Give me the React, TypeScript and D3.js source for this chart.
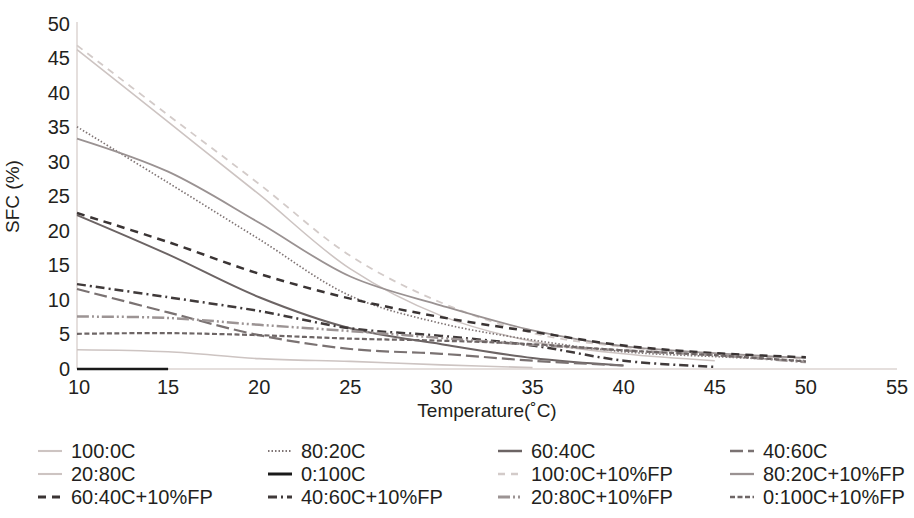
import React from "react";
import * as d3 from "d3";

const temperatures = [10, 15, 20, 25, 30, 35, 40, 45, 50];
const xTicks = [10, 15, 20, 25, 30, 35, 40, 45, 50, 55];
const yTicks = [0, 5, 10, 15, 20, 25, 30, 35, 40, 45, 50];

const seriesNames = [
  "100:0C", "80:20C", "60:40C", "40:60C",
  "20:80C", "0:100C", "100:0C+10%FP", "80:20C+10%FP",
  "60:40C+10%FP", "40:60C+10%FP", "20:80C+10%FP", "0:100C+10%FP",
];

const s100_0 = [46.3, 35.8, 25.3, 14.5, 7.7, 4.0, 2.2, 1.2];
const s80_20 = [35.1, 27.0, 18.8, 10.6, 6.6, 4.2, 2.5, 1.8, 1.2];
const s60_40 = [22.3, 16.6, 10.4, 5.9, 3.6, 1.6, 0.5];
const s40_60 = [11.6, 8.2, 4.9, 2.9, 2.2, 1.2, 0.5];
const s20_80 = [2.8, 2.5, 1.5, 1.1, 0.6, 0.2];
const s0_100 = [0, 0];
const s100_0fp = [46.9, 36.8, 26.8, 16.4, 9.6, 5.2, 3.2, 2.2, 1.5];
const s80_20fp = [33.4, 28.6, 21.2, 13.4, 9.2, 5.6, 3.3, 2.3, 1.6];
const s60_40fp = [22.6, 18.4, 13.8, 10.2, 7.5, 5.4, 3.4, 2.3, 1.7];
const s40_60fp = [12.3, 10.4, 8.4, 5.9, 4.8, 3.4, 1.2, 0.3];
const s20_80fp = [7.6, 7.4, 6.4, 5.5, 4.5, 3.5, 2.7, 2.0, 1.0];
const s0_100fp = [5.1, 5.2, 4.9, 4.4, 4.1, 3.6, 2.7, 2.0, 1.1];

const seriesValues = [
  s100_0, s80_20, s60_40, s40_60,
  s20_80, s0_100, s100_0fp, s80_20fp,
  s60_40fp, s40_60fp, s20_80fp, s0_100fp,
];

const styles = [
  { color: "#cdc4c2", width: 1.6, dash: "" },
  { color: "#7f7474", width: 1.7, dash: "1.5,2" },
  { color: "#6c6464", width: 2, dash: "" },
  { color: "#7a7272", width: 2.2, dash: "13,5" },
  { color: "#cdc4c2", width: 1.6, dash: "" },
  { color: "#1a1a1a", width: 2.5, dash: "" },
  { color: "#d3cbc9", width: 1.8, dash: "7,6" },
  { color: "#9a9292", width: 1.8, dash: "" },
  { color: "#3a3434", width: 2.5, dash: "8,6" },
  { color: "#403a3a", width: 2.5, dash: "9,4,2,4" },
  { color: "#9c9494", width: 2.5, dash: "12,3,2,3,2,3" },
  { color: "#6e6666", width: 2.2, dash: "5,2.5" },
];

const W = 914;
const H = 518;
const x = d3.scaleLinear().domain([10, 55]).range([77, 897]);
const y = d3.scaleLinear().domain([0, 50]).range([369, 24]);

const line = d3
  .line<[number, number]>()
  .x((d) => x(d[0]))
  .y((d) => y(d[1]))
  .curve(d3.curveCatmullRom.alpha(0.5));

const legendColX = [38, 268, 498, 730];
const legendRowY = [451, 474, 497];
const font = "'Liberation Sans', Arial, sans-serif";
const textColor = "#231f20";

export default function App() {
  return (
    <svg width={W} height={H} style={{ position: "absolute", left: 0, top: 0, background: "#fff" }}>
      <line x1={x(10)} x2={x(10)} y1={y(50) - 2} y2={y(0)} stroke="#dcd5d2" strokeWidth={1.5} />
      <line x1={x(10)} x2={x(55)} y1={y(0)} y2={y(0)} stroke="#dcd5d2" strokeWidth={1.5} />
      {yTicks.map((t) => (
        <text key={"y" + t} x={70} y={y(t)} dy="0.34em" textAnchor="end" fontFamily={font} fontSize={20} fill={textColor}>
          {t}
        </text>
      ))}
      {xTicks.map((t) => (
        <text key={"x" + t} x={x(t) + (t === 10 ? 2 : 0)} y={394} textAnchor="middle" fontFamily={font} fontSize={20} fill={textColor}>
          {t}
        </text>
      ))}
      <text x={(x(10) + x(55)) / 2} y={417} textAnchor="middle" fontFamily={font} fontSize={19} fill={textColor}>
        Temperature(˚C)
      </text>
      <text transform={`translate(19,${(y(0) + y(50)) / 2}) rotate(-90)`} textAnchor="middle" fontFamily={font} fontSize={19} fill={textColor}>
        SFC (%)
      </text>
      {seriesValues.map((vals, i) => {
        const pts = vals.map((v, j) => [temperatures[j], v] as [number, number]);
        const st = styles[i];
        return (
          <path key={seriesNames[i]} d={line(pts) || ""} fill="none" stroke={st.color} strokeWidth={st.width} strokeDasharray={st.dash || undefined} />
        );
      })}
      {seriesNames.map((name, i) => {
        const col = i % 4;
        const row = Math.floor(i / 4);
        const st = styles[i];
        const lx = legendColX[col];
        const ly = legendRowY[row];
        return (
          <g key={"leg" + name}>
            <line x1={lx} x2={lx + 24} y1={ly} y2={ly} stroke={st.color} strokeWidth={st.width + 0.5} strokeDasharray={st.dash || undefined} />
            <text x={lx + 33} y={ly} dy="0.36em" fontFamily={font} fontSize={20} fill={textColor}>
              {name}
            </text>
          </g>
        );
      })}
    </svg>
  );
}
